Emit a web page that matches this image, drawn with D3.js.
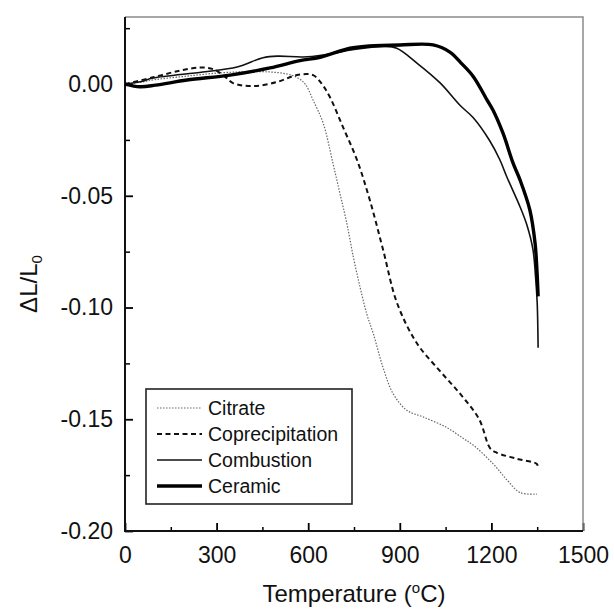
<!DOCTYPE html>
<html>
<head>
<meta charset="utf-8">
<script src="https://cdn.jsdelivr.net/npm/d3@7"></script>
<style>
  body { margin: 0; background: #fff; }
  svg { display: block; font-family: "Liberation Sans", Arial, sans-serif; }
</style>
</head>
<body>
<svg id="chart" width="614" height="610"></svg>
<script>
// dilatometry curves, [temperature °C, dL/L0]
const citrate = [
  [0, 0], [50, 0.0008], [100, 0.002], [200, 0.0035], [311, 0.005], [400, 0.0055],
  [475, 0.0054], [530, 0.0045], [563, 0.003], [590, 0.0], [616, -0.0072], [649, -0.0175],
  [681, -0.0354], [704, -0.049], [726, -0.062], [748, -0.0775], [770, -0.091], [792, -0.103],
  [813, -0.1116], [845, -0.1268], [878, -0.1385], [923, -0.146], [977, -0.149], [1054, -0.1537],
  [1107, -0.1585], [1140, -0.1615], [1206, -0.170], [1250, -0.177], [1294, -0.1828], [1349, -0.1835]
];
const coprecipitation = [
  [0, 0], [92, 0.003], [180, 0.006], [246, 0.0074], [290, 0.0066], [330, 0.003], [354, 0.0004],
  [420, -0.0009], [498, 0.0009], [563, 0.004], [616, 0.004], [645, 0.0], [671, -0.0058],
  [714, -0.0193], [760, -0.034], [802, -0.052], [845, -0.074], [891, -0.098], [956, -0.116],
  [1032, -0.1285], [1100, -0.139], [1160, -0.150], [1196, -0.163], [1218, -0.165],
  [1284, -0.1677], [1349, -0.170], [1352, -0.1715]
];
const combustion = [
  [0, 0], [50, 0.001], [92, 0.0027], [255, 0.0054], [367, 0.0076], [452, 0.0118], [500, 0.0125],
  [583, 0.0121], [650, 0.013], [750, 0.0155], [850, 0.0168], [890, 0.016], [956, 0.0094],
  [1032, 0.0005], [1097, -0.0095], [1140, -0.015], [1195, -0.0255], [1228, -0.034],
  [1251, -0.0417], [1294, -0.055], [1316, -0.063], [1336, -0.074], [1345, -0.087],
  [1350, -0.098], [1353, -0.118]
];
const ceramic = [
  [0, 0], [49, -0.0012], [100, -0.0005], [203, 0.0018], [344, 0.004], [475, 0.0072],
  [573, 0.0105], [639, 0.012], [737, 0.016], [800, 0.017], [901, 0.0175], [1009, 0.0175],
  [1064, 0.0143], [1100, 0.0095], [1141, 0.0033], [1186, -0.0072], [1205, -0.0116],
  [1238, -0.022], [1271, -0.0354], [1294, -0.043], [1326, -0.0564], [1343, -0.0712],
  [1349, -0.083], [1353, -0.095]
];

const seriesNames = ['Citrate', 'Coprecipitation', 'Combustion', 'Ceramic'];
const xTicks = [0, 300, 600, 900, 1200, 1500];
const xMinor = [150, 450, 750, 1050, 1350];
const yTicks = [-0.20, -0.15, -0.10, -0.05, 0.00];
const yMinor = [-0.175, -0.125, -0.075, -0.025, 0.025];

const plotL = 125, plotR = 583, plotT = 17, plotB = 531;

const svg = d3.select('#chart');

const x = d3.scaleLinear().domain([0, 1500]).range([plotL, plotR]);
const y = d3.scaleLinear().domain([-0.20, 0.03]).range([plotB, plotT]);

const fmt = d => d3.format('.2f')(d).replace('\u2212', '-');

// minor ticks
svg.append('g')
  .attr('transform', 'translate(0,' + plotB + ')')
  .call(d3.axisBottom(x).tickValues(xMinor).tickSizeInner(-4).tickSizeOuter(0).tickFormat(''))
  .call(g => g.select('.domain').remove())
  .call(g => g.selectAll('line').attr('stroke-width', 1.5));

svg.append('g')
  .attr('transform', 'translate(' + plotL + ',0)')
  .call(d3.axisLeft(y).tickValues(yMinor).tickSizeInner(-5).tickSizeOuter(0).tickFormat(''))
  .call(g => g.select('.domain').remove())
  .call(g => g.selectAll('line').attr('stroke-width', 1.5));

// major ticks
svg.append('g')
  .attr('transform', 'translate(0,' + plotB + ')')
  .call(d3.axisBottom(x).tickValues(xTicks).tickSizeInner(-8).tickSizeOuter(0).tickPadding(16).tickFormat(d3.format('d')))
  .call(g => g.select('.domain').remove())
  .call(g => g.selectAll('line').attr('stroke-width', 1.8))
  .call(g => g.selectAll('text').attr('font-size', 23).attr('fill', '#111')
    .attr('font-family', '"Liberation Sans", Arial, sans-serif'));

svg.append('g')
  .attr('transform', 'translate(' + plotL + ',0)')
  .call(d3.axisLeft(y).tickValues(yTicks).tickSizeInner(-8).tickSizeOuter(0).tickPadding(12).tickFormat(fmt))
  .call(g => g.select('.domain').remove())
  .call(g => g.selectAll('line').attr('stroke-width', 1.8))
  .call(g => g.selectAll('text').attr('font-size', 23).attr('fill', '#111')
    .attr('font-family', '"Liberation Sans", Arial, sans-serif'));

// frame
svg.append('path')
  .attr('d', 'M' + plotL + ',' + plotT + 'H' + plotR + 'V' + plotB)
  .attr('fill', 'none').attr('stroke', '#8a8a8a').attr('stroke-width', 1.5);
svg.append('path')
  .attr('d', 'M' + plotL + ',' + plotT + 'V' + plotB + 'H' + plotR)
  .attr('fill', 'none').attr('stroke', '#111').attr('stroke-width', 2);

// curves
const line = d3.line()
  .x(d => x(d[0]))
  .y(d => y(d[1]))
  .curve(d3.curveCatmullRom.alpha(0.5));

const styles = [
  { data: citrate, stroke: '#666', width: 1.2, dash: '1.5,1.5' },
  { data: coprecipitation, stroke: '#111', width: 2, dash: '5,3.5' },
  { data: combustion, stroke: '#111', width: 1.6, dash: null },
  { data: ceramic, stroke: '#000', width: 3.4, dash: null }
];

svg.append('g').selectAll('path')
  .data(styles)
  .join('path')
  .attr('d', d => line(d.data))
  .attr('fill', 'none')
  .attr('stroke', d => d.stroke)
  .attr('stroke-width', d => d.width)
  .attr('stroke-dasharray', d => d.dash)
  .attr('stroke-linejoin', 'round');

// legend
const legend = svg.append('g');
legend.append('rect')
  .attr('x', 146).attr('y', 389).attr('width', 206).attr('height', 115)
  .attr('fill', '#fff').attr('stroke', '#222').attr('stroke-width', 1.6);

const entry = legend.selectAll('g.entry')
  .data(styles)
  .join('g')
  .attr('class', 'entry')
  .attr('transform', (d, i) => 'translate(0,' + (408 + i * 26) + ')');

entry.append('line')
  .attr('x1', 157).attr('x2', 202)
  .attr('stroke', d => d.stroke)
  .attr('stroke-width', d => d.width)
  .attr('stroke-dasharray', d => d.dash);

entry.append('text')
  .attr('x', 208).attr('dy', '0.36em')
  .attr('font-size', 19.5).attr('fill', '#111')
  .text((d, i) => seriesNames[i]);

// axis titles
svg.append('text')
  .attr('x', (plotL + plotR) / 2).attr('y', 602)
  .attr('text-anchor', 'middle').attr('font-size', 24).attr('fill', '#111')
  .call(t => {
    t.append('tspan').text('Temperature (');
    t.append('tspan').attr('font-size', 15).attr('dy', -9).text('o');
    t.append('tspan').attr('dy', 9).text('C)');
  });

svg.append('text')
  .attr('transform', 'translate(37,284) rotate(-90)')
  .attr('text-anchor', 'middle').attr('font-size', 24).attr('fill', '#111')
  .call(t => {
    t.append('tspan').text('\u0394L/L');
    t.append('tspan').attr('font-size', 15).attr('dy', 5).text('0');
  });
</script>
</body>
</html>
